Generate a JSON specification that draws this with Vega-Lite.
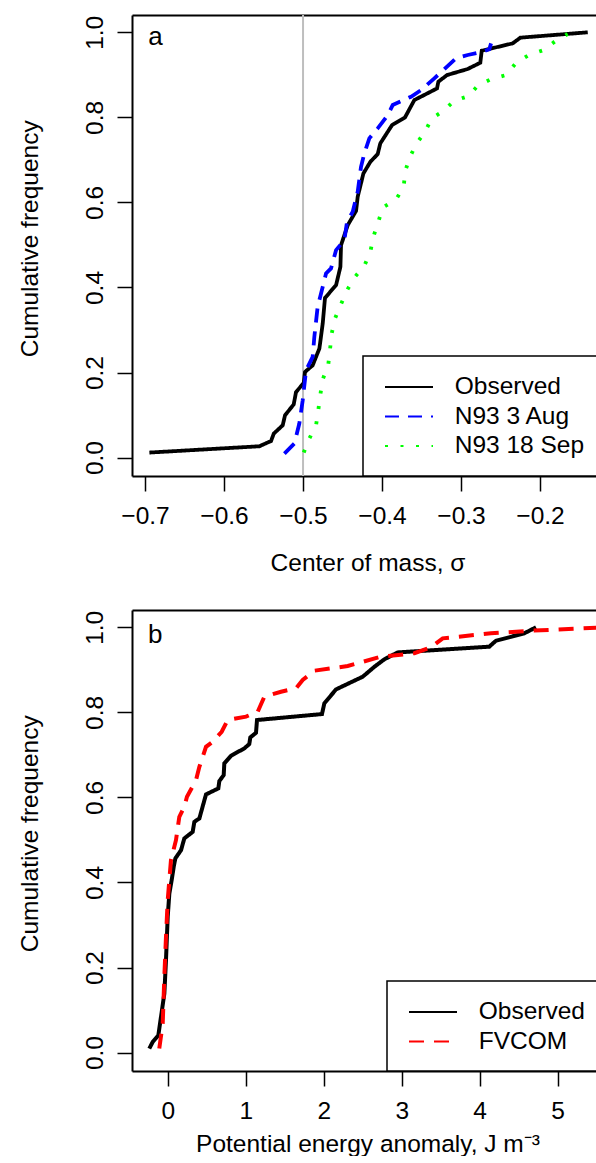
{
  "$schema": "https://vega.github.io/schema/vega-lite/v6.json",
  "padding": {"left": 17, "top": 14, "right": 0, "bottom": 0},
  "background": "white",
  "config": {
    "view": {"stroke": null},
    "font": "Liberation Sans",
    "axis": {"domainColor": "black", "domainWidth": 2, "tickColor": "black", "tickWidth": 1.5, "tickSize": 15, "labelColor": "black", "titleColor": "black", "labelFont": "Liberation Sans", "titleFont": "Liberation Sans", "labelFontSize": 24.5, "titleFontSize": 24.5, "titleFontWeight": "normal", "grid": false, "labelOverlap": false, "labelFlush": false}
  },
  "datasets": {
    "a": [
      {"s": "Observed", "x": -0.6945, "y": 0.0118}, {"s": "Observed", "x": -0.5553, "y": 0.0266}, {"s": "Observed", "x": -0.5405, "y": 0.039}, {"s": "Observed", "x": -0.537, "y": 0.0565}, {"s": "Observed", "x": -0.5257, "y": 0.076}, {"s": "Observed", "x": -0.5228, "y": 0.0995}, {"s": "Observed", "x": -0.5118, "y": 0.125}, {"s": "Observed", "x": -0.5089, "y": 0.154}, {"s": "Observed", "x": -0.4991, "y": 0.1755}, {"s": "Observed", "x": -0.4975, "y": 0.2014}, {"s": "Observed", "x": -0.4878, "y": 0.217}, {"s": "Observed", "x": -0.4793, "y": 0.2565}, {"s": "Observed", "x": -0.4751, "y": 0.315}, {"s": "Observed", "x": -0.4722, "y": 0.3755}, {"s": "Observed", "x": -0.4582, "y": 0.4054}, {"s": "Observed", "x": -0.4527, "y": 0.4485}, {"s": "Observed", "x": -0.4519, "y": 0.4995}, {"s": "Observed", "x": -0.4434, "y": 0.5466}, {"s": "Observed", "x": -0.4329, "y": 0.58}, {"s": "Observed", "x": -0.4308, "y": 0.6132}, {"s": "Observed", "x": -0.4236, "y": 0.668}, {"s": "Observed", "x": -0.4148, "y": 0.6955}, {"s": "Observed", "x": -0.4055, "y": 0.7136}, {"s": "Observed", "x": -0.4022, "y": 0.7388}, {"s": "Observed", "x": -0.3873, "y": 0.7819}, {"s": "Observed", "x": -0.3709, "y": 0.8}, {"s": "Observed", "x": -0.3591, "y": 0.8407}, {"s": "Observed", "x": -0.3304, "y": 0.868}, {"s": "Observed", "x": -0.3287, "y": 0.8838}, {"s": "Observed", "x": -0.3177, "y": 0.8995}, {"s": "Observed", "x": -0.2916, "y": 0.9137}, {"s": "Observed", "x": -0.2756, "y": 0.9285}, {"s": "Observed", "x": -0.2738, "y": 0.9567}, {"s": "Observed", "x": -0.2346, "y": 0.974}, {"s": "Observed", "x": -0.2249, "y": 0.9874}, {"s": "Observed", "x": -0.1396, "y": 1.0},
      {"s": "N93 3 Aug", "x": -0.5236, "y": 0.0094}, {"s": "N93 3 Aug", "x": -0.511, "y": 0.033}, {"s": "N93 3 Aug", "x": -0.5047, "y": 0.08}, {"s": "N93 3 Aug", "x": -0.5004, "y": 0.1348}, {"s": "N93 3 Aug", "x": -0.4962, "y": 0.2054}, {"s": "N93 3 Aug", "x": -0.4878, "y": 0.2367}, {"s": "N93 3 Aug", "x": -0.4857, "y": 0.2838}, {"s": "N93 3 Aug", "x": -0.4815, "y": 0.3544}, {"s": "N93 3 Aug", "x": -0.4772, "y": 0.3858}, {"s": "N93 3 Aug", "x": -0.4709, "y": 0.433}, {"s": "N93 3 Aug", "x": -0.4646, "y": 0.4447}, {"s": "N93 3 Aug", "x": -0.4582, "y": 0.4878}, {"s": "N93 3 Aug", "x": -0.4477, "y": 0.5113}, {"s": "N93 3 Aug", "x": -0.4443, "y": 0.5544}, {"s": "N93 3 Aug", "x": -0.4371, "y": 0.578}, {"s": "N93 3 Aug", "x": -0.4308, "y": 0.625}, {"s": "N93 3 Aug", "x": -0.4266, "y": 0.6838}, {"s": "N93 3 Aug", "x": -0.4224, "y": 0.7153}, {"s": "N93 3 Aug", "x": -0.4161, "y": 0.7506}, {"s": "N93 3 Aug", "x": -0.4055, "y": 0.774}, {"s": "N93 3 Aug", "x": -0.3928, "y": 0.8054}, {"s": "N93 3 Aug", "x": -0.3865, "y": 0.829}, {"s": "N93 3 Aug", "x": -0.3633, "y": 0.8485}, {"s": "N93 3 Aug", "x": -0.3506, "y": 0.8642}, {"s": "N93 3 Aug", "x": -0.3338, "y": 0.8918}, {"s": "N93 3 Aug", "x": -0.3232, "y": 0.9097}, {"s": "N93 3 Aug", "x": -0.3063, "y": 0.9388}, {"s": "N93 3 Aug", "x": -0.2916, "y": 0.9466}, {"s": "N93 3 Aug", "x": -0.2727, "y": 0.9544}, {"s": "N93 3 Aug", "x": -0.2642, "y": 0.96}, {"s": "N93 3 Aug", "x": -0.262, "y": 0.974},
      {"s": "N93 18 Sep", "x": -0.4991, "y": 0.0118}, {"s": "N93 18 Sep", "x": -0.492, "y": 0.0447}, {"s": "N93 18 Sep", "x": -0.4835, "y": 0.076}, {"s": "N93 18 Sep", "x": -0.4806, "y": 0.113}, {"s": "N93 18 Sep", "x": -0.478, "y": 0.149}, {"s": "N93 18 Sep", "x": -0.4751, "y": 0.1835}, {"s": "N93 18 Sep", "x": -0.468, "y": 0.2195}, {"s": "N93 18 Sep", "x": -0.4658, "y": 0.2548}, {"s": "N93 18 Sep", "x": -0.4637, "y": 0.2918}, {"s": "N93 18 Sep", "x": -0.4595, "y": 0.327}, {"s": "N93 18 Sep", "x": -0.4519, "y": 0.3607}, {"s": "N93 18 Sep", "x": -0.4443, "y": 0.3936}, {"s": "N93 18 Sep", "x": -0.4342, "y": 0.425}, {"s": "N93 18 Sep", "x": -0.4224, "y": 0.4509}, {"s": "N93 18 Sep", "x": -0.4148, "y": 0.4838}, {"s": "N93 18 Sep", "x": -0.411, "y": 0.519}, {"s": "N93 18 Sep", "x": -0.4047, "y": 0.5544}, {"s": "N93 18 Sep", "x": -0.3991, "y": 0.588}, {"s": "N93 18 Sep", "x": -0.3823, "y": 0.607}, {"s": "N93 18 Sep", "x": -0.3725, "y": 0.6367}, {"s": "N93 18 Sep", "x": -0.3709, "y": 0.672}, {"s": "N93 18 Sep", "x": -0.3646, "y": 0.7073}, {"s": "N93 18 Sep", "x": -0.3561, "y": 0.7388}, {"s": "N93 18 Sep", "x": -0.3456, "y": 0.766}, {"s": "N93 18 Sep", "x": -0.3371, "y": 0.7976}, {"s": "N93 18 Sep", "x": -0.3219, "y": 0.8155}, {"s": "N93 18 Sep", "x": -0.3092, "y": 0.8383}, {"s": "N93 18 Sep", "x": -0.2908, "y": 0.85}, {"s": "N93 18 Sep", "x": -0.2789, "y": 0.8744}, {"s": "N93 18 Sep", "x": -0.262, "y": 0.89}, {"s": "N93 18 Sep", "x": -0.243, "y": 0.8995}, {"s": "N93 18 Sep", "x": -0.2304, "y": 0.928}, {"s": "N93 18 Sep", "x": -0.2143, "y": 0.9466}, {"s": "N93 18 Sep", "x": -0.1958, "y": 0.958}, {"s": "N93 18 Sep", "x": -0.181, "y": 0.9788}, {"s": "N93 18 Sep", "x": -0.165, "y": 0.996}
    ],
    "b": [
      {"s": "Observed", "x": -0.236, "y": 0.0094}, {"s": "Observed", "x": -0.192, "y": 0.025}, {"s": "Observed", "x": -0.12, "y": 0.0407}, {"s": "Observed", "x": -0.086, "y": 0.0838}, {"s": "Observed", "x": -0.043, "y": 0.1388}, {"s": "Observed", "x": -0.022, "y": 0.2172}, {"s": "Observed", "x": 0.0, "y": 0.319}, {"s": "Observed", "x": 0.021, "y": 0.374}, {"s": "Observed", "x": 0.051, "y": 0.4054}, {"s": "Observed", "x": 0.077, "y": 0.4367}, {"s": "Observed", "x": 0.098, "y": 0.4565}, {"s": "Observed", "x": 0.171, "y": 0.476}, {"s": "Observed", "x": 0.213, "y": 0.5035}, {"s": "Observed", "x": 0.32, "y": 0.519}, {"s": "Observed", "x": 0.342, "y": 0.5426}, {"s": "Observed", "x": 0.406, "y": 0.5506}, {"s": "Observed", "x": 0.491, "y": 0.607}, {"s": "Observed", "x": 0.649, "y": 0.6212}, {"s": "Observed", "x": 0.662, "y": 0.6384}, {"s": "Observed", "x": 0.718, "y": 0.6525}, {"s": "Observed", "x": 0.726, "y": 0.68}, {"s": "Observed", "x": 0.812, "y": 0.698}, {"s": "Observed", "x": 0.982, "y": 0.7153}, {"s": "Observed", "x": 1.046, "y": 0.7254}, {"s": "Observed", "x": 1.059, "y": 0.741}, {"s": "Observed", "x": 1.132, "y": 0.752}, {"s": "Observed", "x": 1.145, "y": 0.782}, {"s": "Observed", "x": 1.978, "y": 0.796}, {"s": "Observed", "x": 2.008, "y": 0.821}, {"s": "Observed", "x": 2.158, "y": 0.854}, {"s": "Observed", "x": 2.5, "y": 0.8838}, {"s": "Observed", "x": 2.649, "y": 0.907}, {"s": "Observed", "x": 2.777, "y": 0.9247}, {"s": "Observed", "x": 2.949, "y": 0.941}, {"s": "Observed", "x": 4.123, "y": 0.9544}, {"s": "Observed", "x": 4.209, "y": 0.9685}, {"s": "Observed", "x": 4.572, "y": 0.9859}, {"s": "Observed", "x": 4.722, "y": 1.0},
      {"s": "FVCOM", "x": -0.108, "y": 0.0094}, {"s": "FVCOM", "x": -0.064, "y": 0.068}, {"s": "FVCOM", "x": -0.043, "y": 0.178}, {"s": "FVCOM", "x": -0.022, "y": 0.272}, {"s": "FVCOM", "x": 0.0, "y": 0.358}, {"s": "FVCOM", "x": 0.042, "y": 0.4525}, {"s": "FVCOM", "x": 0.106, "y": 0.4995}, {"s": "FVCOM", "x": 0.149, "y": 0.5544}, {"s": "FVCOM", "x": 0.213, "y": 0.578}, {"s": "FVCOM", "x": 0.247, "y": 0.6014}, {"s": "FVCOM", "x": 0.363, "y": 0.6407}, {"s": "FVCOM", "x": 0.406, "y": 0.672}, {"s": "FVCOM", "x": 0.491, "y": 0.719}, {"s": "FVCOM", "x": 0.577, "y": 0.731}, {"s": "FVCOM", "x": 0.692, "y": 0.7544}, {"s": "FVCOM", "x": 0.769, "y": 0.782}, {"s": "FVCOM", "x": 1.004, "y": 0.79}, {"s": "FVCOM", "x": 1.154, "y": 0.8014}, {"s": "FVCOM", "x": 1.239, "y": 0.8367}, {"s": "FVCOM", "x": 1.453, "y": 0.8485}, {"s": "FVCOM", "x": 1.645, "y": 0.8565}, {"s": "FVCOM", "x": 1.731, "y": 0.876}, {"s": "FVCOM", "x": 1.88, "y": 0.898}, {"s": "FVCOM", "x": 2.308, "y": 0.909}, {"s": "FVCOM", "x": 2.735, "y": 0.931}, {"s": "FVCOM", "x": 3.162, "y": 0.939}, {"s": "FVCOM", "x": 3.376, "y": 0.953}, {"s": "FVCOM", "x": 3.526, "y": 0.974}, {"s": "FVCOM", "x": 4.145, "y": 0.9859}, {"s": "FVCOM", "x": 4.658, "y": 0.992}, {"s": "FVCOM", "x": 5.58, "y": 1.0}
    ]
  },
  "spacing": 35,
  "resolve": {"scale": {"color": "independent", "strokeDash": "independent"}, "legend": {"color": "independent", "strokeDash": "independent"}},
  "vconcat": [
    {
      "width": 471,
      "height": 461,
      "resolve": {"axis": {"x": "independent"}},
      "layer": [
        {
          "data": {"values": [{"x": -0.5}]},
          "mark": {"type": "rule", "color": "#BEBEBE", "strokeWidth": 2},
          "encoding": {
            "x": {"field": "x", "type": "quantitative", "scale": {"domain": [-0.7165, -0.1203], "nice": false, "zero": false}, "axis": null}
          }
        },
        {
          "data": {"name": "a"},
          "mark": {"type": "line", "clip": true},
          "encoding": {
            "x": {"field": "x", "type": "quantitative", "scale": {"domain": [-0.7165, -0.1203], "nice": false, "zero": false},
              "axis": {"orient": "bottom", "values": [-0.7, -0.6, -0.5, -0.4, -0.3, -0.2], "format": ".1f", "labelBaseline": "alphabetic", "labelAlign": "center", "labelPadding": 32, "title": "Center of mass, σ", "titleX": 235.5, "titleY": 94, "titleBaseline": "alphabetic", "titleAlign": "center"}},
            "y": {"field": "y", "type": "quantitative", "scale": {"domain": [-0.0433, 1.0407], "nice": false, "zero": false},
              "axis": {"orient": "left", "values": [0, 0.2, 0.4, 0.6, 0.8, 1.0], "format": ".1f", "labelAngle": 270, "labelAlign": "center", "labelBaseline": "alphabetic", "labelPadding": 14.3, "title": "Cumulative frequency", "titleAngle": 270, "titleX": -94.4, "titleY": 223.3, "titleBaseline": "alphabetic", "titleAlign": "center"}},
            "color": {"field": "s", "type": "nominal", "scale": {"domain": ["Observed", "N93 3 Aug", "N93 18 Sep"], "range": ["#000000", "#0000FF", "#00FF00"]},
              "legend": {"title": null, "orient": "bottom-right", "offset": 0, "padding": 18, "strokeColor": "black", "fillColor": "white", "labelFont": "Liberation Sans", "labelFontSize": 24.5, "labelColor": "black", "labelOffset": 32.7, "symbolOffset": 15, "symbolType": "M-2,0L2,0", "symbolSize": 576, "symbolStrokeWidth": 2, "rowPadding": 4.5, "labelLimit": 400, "encode": {"legend": {"update": {"strokeWidth": {"value": 1.5}}}, "symbols": {"update": {"strokeDash": {"signal": "datum.value === 'N93 18 Sep' ? [2, 7.3] : datum.value === 'N93 3 Aug' ? [11, 7.5] : [1, 0]"}}}}}},
            "strokeDash": {"field": "s", "type": "nominal", "scale": {"domain": ["Observed", "N93 3 Aug", "N93 18 Sep"], "range": [[1, 0], [14, 9], [3, 12.5]]},
              "legend": {"title": null, "orient": "bottom-right", "offset": 0, "padding": 18, "strokeColor": "black", "fillColor": "white", "labelFont": "Liberation Sans", "labelFontSize": 24.5, "labelColor": "black", "labelOffset": 32.7, "symbolOffset": 15, "symbolType": "M-2,0L2,0", "symbolSize": 576, "symbolStrokeWidth": 2, "rowPadding": 4.5, "labelLimit": 400, "encode": {"legend": {"update": {"strokeWidth": {"value": 1.5}}}, "symbols": {"update": {"strokeDash": {"signal": "datum.value === 'N93 18 Sep' ? [2, 7.3] : datum.value === 'N93 3 Aug' ? [11, 7.5] : [1, 0]"}}}}}},
            "strokeWidth": {"value": 3.8},
            "order": {"field": "y", "type": "quantitative"}
          }
        },
        {
          "data": {"values": [{"x": -0.696, "y": 0.97, "t": "a"}]},
          "mark": {"type": "text", "align": "left", "baseline": "alphabetic", "fontSize": 26, "font": "Liberation Sans", "color": "black"},
          "encoding": {
            "x": {"field": "x", "type": "quantitative", "scale": {"domain": [-0.7165, -0.1203], "nice": false, "zero": false},
              "axis": {"orient": "top", "labels": false, "ticks": false, "title": null, "domain": true}},
            "y": {"field": "y", "type": "quantitative", "scale": {"domain": [-0.0433, 1.0407], "nice": false, "zero": false},
              "axis": {"orient": "left", "values": [0, 0.2, 0.4, 0.6, 0.8, 1.0], "format": ".1f", "labelAngle": 270, "labelAlign": "center", "labelBaseline": "alphabetic", "labelPadding": 14.3, "title": "Cumulative frequency", "titleAngle": 270, "titleX": -94.4, "titleY": 223.3, "titleBaseline": "alphabetic", "titleAlign": "center"}},
            "text": {"field": "t"}
          }
        }
      ]
    },
    {
      "width": 471,
      "height": 461,
      "resolve": {"axis": {"x": "independent"}},
      "layer": [
        {
          "data": {"name": "b"},
          "mark": {"type": "line", "clip": true},
          "encoding": {
            "x": {"field": "x", "type": "quantitative", "scale": {"domain": [-0.4577, 5.581], "nice": false, "zero": false},
              "axis": {"orient": "bottom", "values": [0, 1, 2, 3, 4, 5], "format": "d", "labelBaseline": "alphabetic", "labelAlign": "center", "labelPadding": 32, "title": "Potential energy anomaly, J m⁻³", "titleX": 235.5, "titleY": 80, "titleBaseline": "alphabetic", "titleAlign": "center"}},
            "y": {"field": "y", "type": "quantitative", "scale": {"domain": [-0.0433, 1.0407], "nice": false, "zero": false},
              "axis": {"orient": "left", "values": [0, 0.2, 0.4, 0.6, 0.8, 1.0], "format": ".1f", "labelAngle": 270, "labelAlign": "center", "labelBaseline": "alphabetic", "labelPadding": 14.3, "title": "Cumulative frequency", "titleAngle": 270, "titleX": -94.4, "titleY": 223.3, "titleBaseline": "alphabetic", "titleAlign": "center"}},
            "color": {"field": "s", "type": "nominal", "scale": {"domain": ["Observed", "FVCOM"], "range": ["#000000", "#FF0000"]},
              "legend": {"title": null, "orient": "bottom-right", "offset": 0, "padding": 18, "strokeColor": "black", "fillColor": "white", "labelFont": "Liberation Sans", "labelFontSize": 24.5, "labelColor": "black", "labelOffset": 32.7, "symbolOffset": 15, "symbolType": "M-2,0L2,0", "symbolSize": 576, "symbolStrokeWidth": 2, "rowPadding": 4.5, "labelLimit": 400, "encode": {"legend": {"update": {"strokeWidth": {"value": 1.5}}}, "symbols": {"update": {"strokeDash": {"signal": "datum.value === 'FVCOM' ? [11, 7.5] : [1, 0]"}}}}}},
            "strokeDash": {"field": "s", "type": "nominal", "scale": {"domain": ["Observed", "FVCOM"], "range": [[1, 0], [15, 10]]},
              "legend": {"title": null, "orient": "bottom-right", "offset": 0, "padding": 18, "strokeColor": "black", "fillColor": "white", "labelFont": "Liberation Sans", "labelFontSize": 24.5, "labelColor": "black", "labelOffset": 32.7, "symbolOffset": 15, "symbolType": "M-2,0L2,0", "symbolSize": 576, "symbolStrokeWidth": 2, "rowPadding": 4.5, "labelLimit": 400, "encode": {"legend": {"update": {"strokeWidth": {"value": 1.5}}}, "symbols": {"update": {"strokeDash": {"signal": "datum.value === 'FVCOM' ? [11, 7.5] : [1, 0]"}}}}}},
            "strokeWidth": {"value": 4},
            "order": {"field": "y", "type": "quantitative"}
          }
        },
        {
          "data": {"values": [{"x": -0.2526, "y": 0.9638, "t": "b"}]},
          "mark": {"type": "text", "align": "left", "baseline": "alphabetic", "fontSize": 26, "font": "Liberation Sans", "color": "black"},
          "encoding": {
            "x": {"field": "x", "type": "quantitative", "scale": {"domain": [-0.4577, 5.581], "nice": false, "zero": false},
              "axis": {"orient": "top", "labels": false, "ticks": false, "title": null, "domain": true}},
            "y": {"field": "y", "type": "quantitative", "scale": {"domain": [-0.0433, 1.0407], "nice": false, "zero": false},
              "axis": {"orient": "left", "values": [0, 0.2, 0.4, 0.6, 0.8, 1.0], "format": ".1f", "labelAngle": 270, "labelAlign": "center", "labelBaseline": "alphabetic", "labelPadding": 14.3, "title": "Cumulative frequency", "titleAngle": 270, "titleX": -94.4, "titleY": 223.3, "titleBaseline": "alphabetic", "titleAlign": "center"}},
            "text": {"field": "t"}
          }
        }
      ]
    }
  ]
}
